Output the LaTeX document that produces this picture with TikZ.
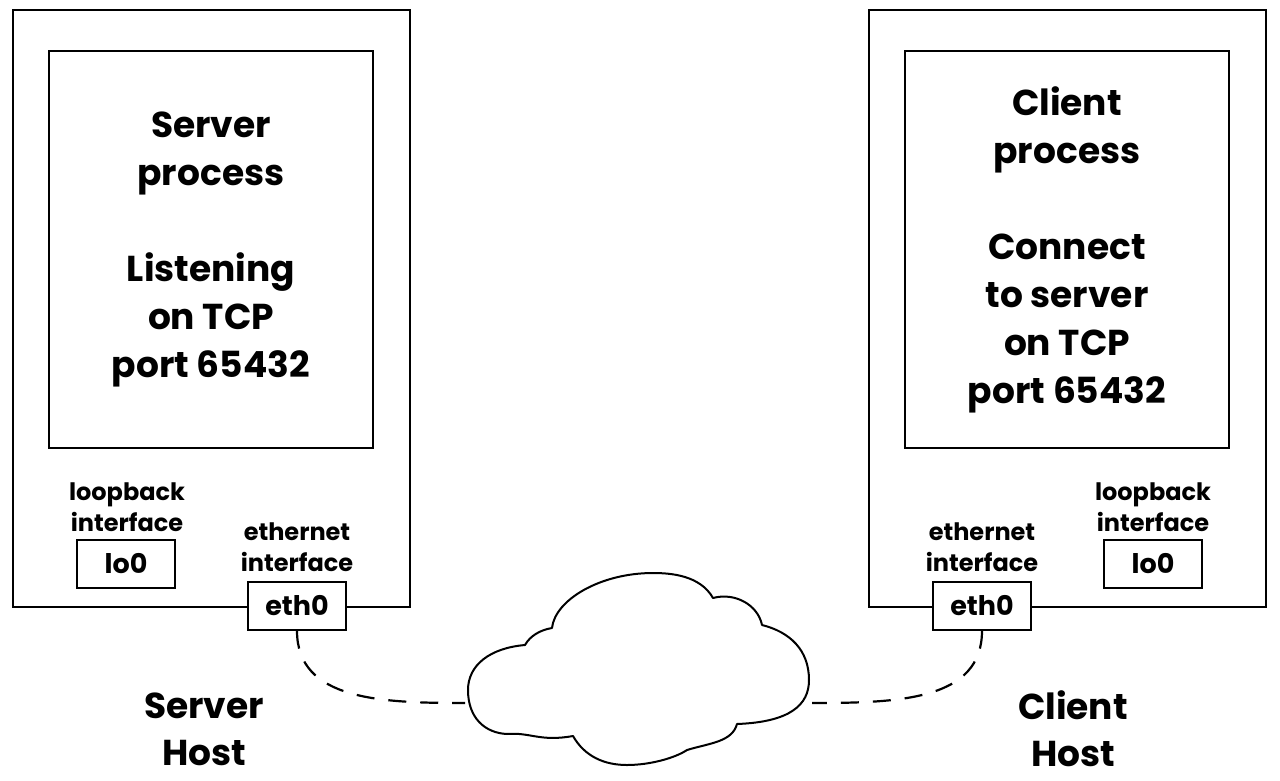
\documentclass[tikz,border=0pt]{standalone}
\usepackage{fontspec}
\setmainfont{Poppins}
\begin{document}
\begin{tikzpicture}[x=1pt,y=-1pt,
  hostbox/.style={draw,line width=2.6pt,minimum width=397pt,minimum height=597pt,inner sep=0pt},
  procbox/.style={draw,line width=1.8pt,minimum width=324pt,minimum height=397pt,inner sep=0pt,
    align=center,font=\fontsize{36}{48}\selectfont\bfseries},
  ifbox/.style={draw,fill=white,line width=1.5pt,minimum width=98pt,minimum height=48pt,inner sep=0pt,
    font=\fontsize{27}{30}\selectfont\bfseries},
  iflabel/.style={align=center,font=\fontsize{24}{31}\selectfont\bfseries},
  hostlabel/.style={align=center,font=\fontsize{36}{47}\selectfont\bfseries},
  link/.style={dashed,line width=2.2pt,dash pattern=on 18pt off 14pt}]
 \useasboundingbox (0,0) rectangle (1280,780);
 % server host
 \node[hostbox] (srvhost) at (211.5,308.5) {};
 \node[procbox] (srvproc) at (211,249.5) {Server\\process\\[48pt]Listening\\on TCP\\port 65432};
 \node[iflabel] (srvlolbl) at (127,507) {loopback\\interface};
 \node[ifbox] (srvlo) at (126,564) {lo0};
 \node[iflabel] (srvethlbl) at (297,547) {ethernet\\interface};
 \node[ifbox] (srveth) at (297,606) {eth0};
 \node[hostlabel] (srvname) at (204,729) {Server\\Host};
 % client host
 \node[hostbox] (clihost) at (1067.5,308.5) {};
 \node[procbox] (cliproc) at (1067,249.5) {Client\\process\\[48pt]Connect\\to server\\on TCP\\port 65432};
 \node[iflabel] (clilolbl) at (1153,507) {loopback\\interface};
 \node[ifbox] (clilo) at (1153,564) {lo0};
 \node[iflabel] (cliethlbl) at (982,547) {ethernet\\interface};
 \node[ifbox] (clieth) at (982,606) {eth0};
 \node[hostlabel] (cliname) at (1073,729) {Client\\Host};
 % network cloud
 \draw[line width=2pt,line join=round]
   (525,645) .. controls (490,648) and (468,665) .. (468,690)
   .. controls (468,718) and (485,733) .. (507,734)
   .. controls (530,732) and (540,742) .. (573,736)
   .. controls (585,757) and (605,765) .. (627,765)
   .. controls (650,765) and (675,758) .. (687,750)
   .. controls (710,743) and (732,742) .. (737,724)
   .. controls (790,722) and (809,705) .. (809,680)
   .. controls (809,650) and (790,632) .. (762,625)
   .. controls (758,605) and (735,592) .. (713,598)
   .. controls (700,575) and (670,573) .. (653,573)
   .. controls (600,573) and (555,600) .. (552,628)
   .. controls (540,630) and (530,636) .. (525,645) -- cycle;
 \coordinate (cloudW) at (465,703);
 \coordinate (cloudE) at (812,703);
 \draw[link] (srveth.south) .. controls (297,700) and (380,703) .. (cloudW);
 \draw[link] (clieth.south) .. controls (982,700) and (900,703) .. (cloudE);
\end{tikzpicture}
\end{document}
